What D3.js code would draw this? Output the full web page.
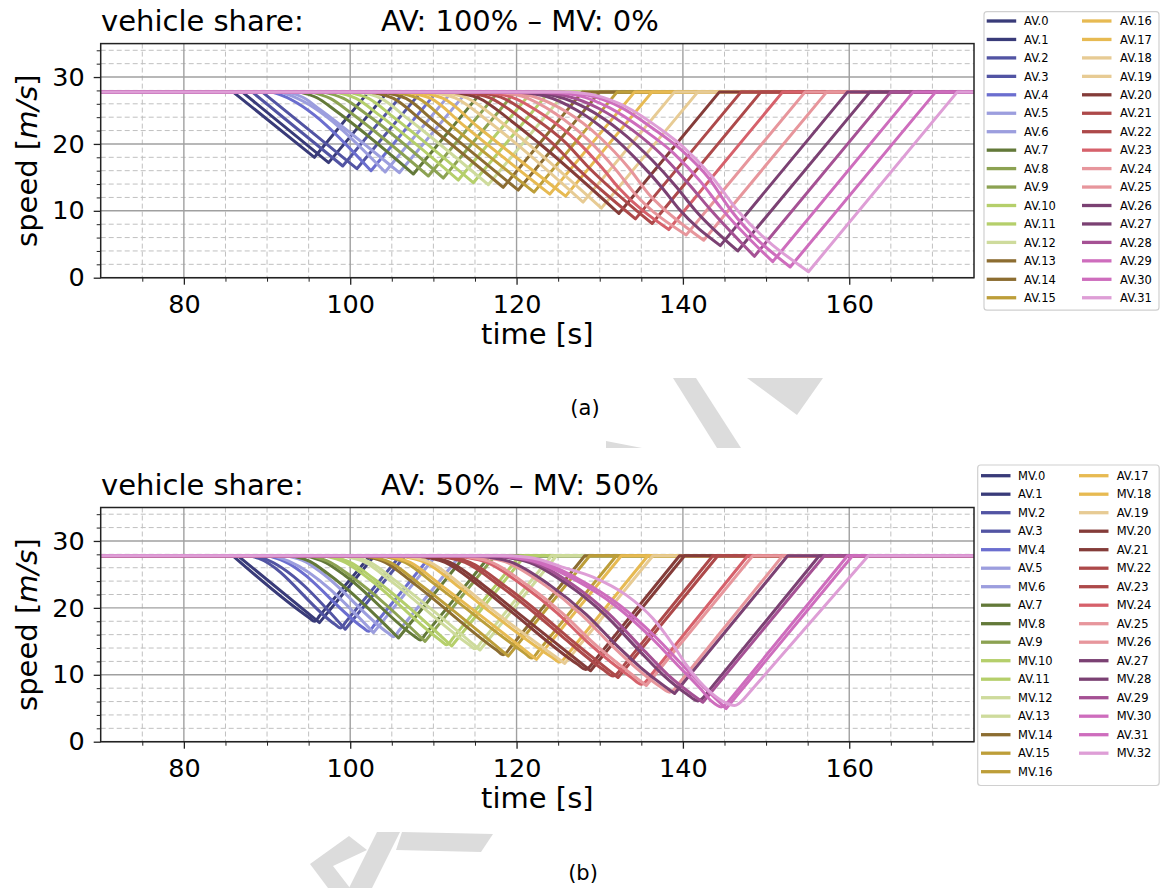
<!DOCTYPE html>
<html><head><meta charset="utf-8">
<script src="https://cdn.jsdelivr.net/npm/d3@7"></script>
<style>
body{margin:0;background:#fff}
svg{display:block}
text{font-family:"DejaVu Sans",sans-serif;fill:#000}
</style>
</head><body>
<svg id="c" width="1161" height="888"></svg>
<script>
// ---------- data ----------
const palette = ["#393b79","#5254a3","#6b6ecf","#9c9ede","#637939","#8ca252","#b5cf6b","#cedb9c",
  "#8c6d31","#bd9e39","#e7ba52","#e7cb94","#843c39","#ad494a","#d6616b","#e7969c",
  "#7b4173","#a55194","#ce6dbd","#de9ed6"];
const vFree = 27.78;
const xMajorTicks = [80,100,120,140,160];
const xMinorTicks = [75,85,90,95,105,110,115,125,130,135,145,150,155,165,170];
const yMajorTicks = [0,10,20,30];
const yMinorTicks = [2,4,6,8,12,14,16,18,22,24,26,28,32,34];

const aTitleLeft = "vehicle share:";
const aTitleRight = "AV: 100% \u2013 MV: 0%";
const bTitleRight = "AV: 50% \u2013 MV: 50%";

const aLabels = ["AV.0","AV.1","AV.2","AV.3","AV.4","AV.5","AV.6","AV.7","AV.8","AV.9","AV.10","AV.11","AV.12","AV.13","AV.14","AV.15",
  "AV.16","AV.17","AV.18","AV.19","AV.20","AV.21","AV.22","AV.23","AV.24","AV.25","AV.26","AV.27","AV.28","AV.29","AV.30","AV.31"];
// braking phase of each vehicle: [time, speed] points from start of braking to minimum
const aDecel = [
 [[85.9,27.78],[95.7,18.0]],
 [[87.0,27.78],[97.4,17.2]],
 [[88.2,27.78],[99.1,16.7]],
 [[89.4,27.78],[100.8,16.3]],
 [[90.5,27.78],[91.7,27.3],[102.5,16.0]],
 [[91.5,27.78],[93.1,27.1],[104.2,15.8]],
 [[92.4,27.78],[94.4,26.9],[96.4,25.1],[105.9,15.7]],
 [[93.8,27.78],[96.0,26.9],[98.2,25.0],[107.6,15.5]],
 [[95.2,27.78],[97.6,26.8],[100.0,24.7],[109.4,15.2]],
 [[96.6,27.78],[99.2,26.8],[101.8,24.6],[111.2,14.9]],
 [[98.0,27.78],[100.7,26.8],[103.5,24.3],[113.0,14.6]],
 [[99.4,27.78],[102.2,26.8],[105.2,24.0],[114.8,14.2]],
 [[100.8,27.78],[103.7,26.8],[106.9,23.8],[116.6,13.9]],
 [[102.2,27.78],[105.2,26.8],[108.6,23.5],[118.4,13.5]],
 [[103.6,27.78],[106.7,26.8],[110.2,23.3],[120.2,13.1]],
 [[105.0,27.78],[108.2,26.8],[111.9,23.0],[122.1,12.8]],
 [[106.4,27.78],[109.7,26.8],[113.6,22.8],[124.0,12.5]],
 [[107.8,27.78],[111.2,26.8],[115.3,22.6],[125.9,12.2]],
 [[109.2,27.78],[112.6,26.9],[116.6,23.4],[119.8,20.2],[128.0,11.3]],
 [[110.6,27.78],[114.0,26.9],[118.0,23.4],[121.5,19.9],[130.2,10.4]],
 [[112.0,27.78],[115.4,26.9],[119.4,23.4],[123.0,19.8],[132.3,9.6]],
 [[113.4,27.78],[116.8,26.9],[120.8,23.6],[124.4,20.0],[126.6,17.2],[134.3,8.8]],
 [[114.7,27.78],[118.1,27.0],[122.1,23.9],[125.8,20.3],[128.5,16.7],[136.3,8.1]],
 [[116.0,27.78],[119.4,27.0],[123.4,24.2],[127.2,20.5],[130.3,16.4],[132.3,13.4],[138.3,7.2]],
 [[117.3,27.78],[120.7,27.1],[124.7,24.5],[128.6,20.6],[131.9,16.2],[134.2,12.6],[140.4,6.4]],
 [[118.6,27.78],[122.0,27.1],[126.0,24.8],[130.0,21.0],[133.5,16.4],[136.1,12.2],[137.6,10.4],[142.5,5.6]],
 [[119.9,27.78],[123.3,27.2],[127.3,25.0],[131.3,21.4],[134.8,17.2],[137.6,13.3],[139.5,10.3],[144.5,4.8]],
 [[121.2,27.78],[124.6,27.2],[128.6,25.2],[132.6,21.8],[136.2,17.7],[139.2,13.6],[141.4,10.2],[146.6,4.0]],
 [[122.5,27.78],[125.9,27.2],[129.9,25.3],[133.9,22.1],[137.6,18.2],[140.7,14.0],[143.3,10.2],[148.6,3.2]],
 [[123.8,27.78],[127.2,27.3],[131.2,25.4],[135.2,22.2],[138.9,18.6],[142.1,14.4],[144.6,10.4],[150.8,2.4]],
 [[125.1,27.78],[128.5,27.3],[132.5,25.5],[136.4,22.3],[139.9,19.0],[143.1,14.9],[145.7,10.2],[152.9,1.6]],
 [[126.4,27.78],[129.4,27.3],[133.1,25.6],[137.1,22.4],[140.0,19.6],[143.3,15.4],[146.4,10.3],[155.1,0.9]]
];
// time at which each vehicle is back at free speed
const aEnd = [102.2,104.5,106.5,108.5,110.4,112.2,114.0,115.8,117.8,119.8,121.8,123.9,125.9,127.9,130.0,132.1,
  134.2,136.3,139.0,141.8,144.4,147.0,149.4,152.0,154.7,157.3,159.8,162.5,165.0,167.7,170.4,173.0];

const bLabels = ["MV.0","AV.1","MV.2","AV.3","MV.4","AV.5","MV.6","AV.7","MV.8","AV.9","MV.10","AV.11","MV.12","AV.13","MV.14","AV.15",
  "MV.16","AV.17","MV.18","AV.19","MV.20","AV.21","MV.22","AV.23","MV.24","AV.25","MV.26","AV.27","MV.28","AV.29","MV.30","AV.31","MV.32"];
const bDecel = [
 [[85.9,27.78],[95.1,18.5],[95.7,18.0],[96.3,18.8]],
 [[86.5,27.78],[96.3,17.8]],
 [[88.0,27.78],[89.0,27.4],[98.2,17.5],[98.8,17.0],[99.4,17.8]],
 [[88.6,27.78],[89.6,27.4],[99.4,16.8]],
 [[90.2,27.78],[92.0,27.0],[101.6,17.0],[102.2,16.5],[102.8,17.3]],
 [[90.8,27.78],[92.6,27.0],[102.8,16.3]],
 [[92.4,27.78],[94.6,26.9],[96.6,25.2],[104.6,16.2],[105.2,15.7],[105.8,16.5]],
 [[93.0,27.78],[95.2,26.9],[97.2,25.2],[105.8,15.5]],
 [[94.6,27.78],[97.0,26.8],[99.4,24.8],[107.8,15.7],[108.4,15.2],[109.0,16.0]],
 [[95.2,27.78],[97.6,26.8],[100.0,24.8],[109.0,15.0]],
 [[96.8,27.78],[99.4,26.8],[102.2,24.4],[110.9,15.1],[111.6,14.5],[112.3,15.4]],
 [[97.4,27.78],[100.0,26.8],[102.8,24.4],[112.2,14.3]],
 [[99.0,27.78],[101.8,26.8],[104.9,24.0],[114.3,14.5],[115.0,13.9],[115.7,14.8]],
 [[99.6,27.78],[102.4,26.8],[105.5,24.0],[115.6,13.7]],
 [[101.2,27.78],[104.2,26.8],[107.6,23.7],[117.6,13.7],[118.4,13.0],[119.2,14.0]],
 [[101.8,27.78],[104.8,26.8],[108.2,23.7],[119.0,12.8]],
 [[103.4,27.78],[106.6,26.8],[110.3,23.4],[121.0,13.2],[121.8,12.5],[122.6,13.5]],
 [[104.0,27.78],[107.2,26.8],[110.9,23.4],[122.4,12.3]],
 [[105.6,27.78],[109.0,26.8],[113.0,23.2],[116.8,19.4],[124.3,12.6],[125.2,11.9],[126.1,13.0]],
 [[106.2,27.78],[109.6,26.8],[113.6,23.2],[117.4,19.4],[125.8,11.7]],
 [[107.8,27.78],[111.4,26.8],[115.6,23.2],[119.4,19.4],[127.3,11.6],[128.3,10.8],[129.3,12.0]],
 [[108.4,27.78],[112.0,26.8],[116.2,23.2],[120.0,19.4],[128.9,10.6]],
 [[110.0,27.78],[113.8,26.8],[118.2,23.1],[122.2,19.2],[125.6,15.6],[130.5,10.7],[131.6,9.8],[132.7,11.1]],
 [[110.6,27.78],[114.4,26.8],[118.8,23.1],[122.8,19.2],[126.2,15.6],[132.2,9.6]],
 [[112.2,27.78],[116.2,26.9],[120.8,23.3],[125.0,19.1],[128.6,14.8],[133.8,9.6],[135.0,8.6],[136.2,10.0]],
 [[112.8,27.78],[116.8,26.9],[121.4,23.3],[125.6,19.1],[129.2,14.8],[135.6,8.4]],
 [[114.4,27.78],[118.6,26.9],[123.4,23.4],[127.8,19.0],[131.6,14.2],[134.4,11.0],[137.2,8.3],[138.4,7.4],[139.6,8.8]],
 [[115.0,27.78],[119.2,26.9],[124.0,23.4],[128.4,19.0],[132.2,14.2],[135.0,11.0],[139.0,7.2]],
 [[116.6,27.78],[121.0,27.0],[126.0,23.6],[130.6,19.0],[134.6,13.8],[137.6,10.0],[140.5,7.1],[141.8,6.1],[143.1,7.6]],
 [[117.2,27.78],[121.6,27.0],[126.6,23.6],[131.2,19.0],[135.2,13.8],[138.2,10.0],[142.4,5.9]],
 [[118.0,27.78],[122.0,27.0],[127.0,24.2],[131.8,20.4],[136.0,15.8],[139.4,11.4],[142.2,7.8],[143.4,6.1],[144.6,5.2],[145.8,6.5]],
 [[118.6,27.78],[122.6,27.0],[127.6,24.2],[132.4,20.4],[136.6,15.8],[140.0,11.4],[142.8,7.8],[145.2,4.95]],
 [[119.5,27.78],[122.5,27.3],[125.5,26.1],[129.2,24.6],[133.2,21.9],[136.4,18.4],[138.8,14.5],[140.4,11.5],[142.0,9.0],[143.4,7.3],[145.0,5.9],[146.2,5.4],[147.4,6.5]]
];
const bEnd = [102.4,102.9,106.0,106.6,109.7,110.3,113.2,113.8,116.8,117.4,120.4,121.0,124.2,124.8,128.2,128.8,
  132.0,132.6,135.8,136.4,139.6,140.2,143.6,144.2,147.8,148.4,152.0,152.6,156.4,157.0,159.8,160.4,162.3];

// ---------- drawing ----------
const svg = d3.select("#c");
const x = d3.scaleLinear().domain([70,175]).range([100.7,974]);

// watermark fragments (behind everything)
const wm = svg.append("g").attr("fill","#dcdcdc");
[
 [[673,378],[696,378],[741,448],[717,448]],
 [[747,378],[823,378],[797,415]],
 [[606,448],[642,448],[606,441]],
 [[349,836],[367,850],[333,866],[350,888],[328,888],[310,864]],
 [[377,832],[400,832],[372,888],[349,888]],
 [[402,832],[493,834],[481,852],[396,850]]
].forEach(p=>wm.append("polygon").attr("points",p.map(q=>q.join(",")).join(" ")));

function panel(top, bottom, titleRight, labels, decel, ends, legendCfg, clipId){
  const y = d3.scaleLinear().domain([0,35]).range([bottom, top]);
  const g = svg.append("g");
  const x0 = x.range()[0], x1 = x.range()[1];

  g.append("clipPath").attr("id",clipId).append("rect")
    .attr("x",x0).attr("y",top).attr("width",x1-x0).attr("height",bottom-top);

  // grid
  const grid = g.append("g");
  xMinorTicks.forEach(t=>grid.append("line").attr("x1",x(t)).attr("x2",x(t)).attr("y1",top).attr("y2",bottom)
     .attr("stroke","#c0c0c0").attr("stroke-width",1).attr("stroke-dasharray","5,3"));
  yMinorTicks.forEach(t=>grid.append("line").attr("x1",x0).attr("x2",x1).attr("y1",y(t)).attr("y2",y(t))
     .attr("stroke","#c0c0c0").attr("stroke-width",1).attr("stroke-dasharray","5,3"));
  xMajorTicks.forEach(t=>grid.append("line").attr("x1",x(t)).attr("x2",x(t)).attr("y1",top).attr("y2",bottom)
     .attr("stroke","#a0a0a0").attr("stroke-width",1.4));
  yMajorTicks.forEach(t=>grid.append("line").attr("x1",x0).attr("x2",x1).attr("y1",y(t)).attr("y2",y(t))
     .attr("stroke","#a0a0a0").attr("stroke-width",1.4));

  // series
  const lin = d3.line().x(d=>x(d[0])).y(d=>y(d[1]));
  const mono = d3.line().curve(d3.curveMonotoneX).x(d=>x(d[0])).y(d=>y(d[1]));
  const N = labels.length;
  const color = i => palette[Math.floor(i*20/N)];
  const series = g.append("g").attr("clip-path",`url(#${clipId})`);
  decel.forEach((P,i)=>{
    const last = P[P.length-1];
    const d = lin([[70,vFree],P[0]]) + mono(P) + lin([last,[ends[i],vFree],[175,vFree]]);
    series.append("path").attr("d",d).attr("fill","none").attr("stroke",color(i))
      .attr("stroke-width",3).attr("stroke-linejoin","round").attr("stroke-linecap","round");
  });

  // axes
  const ax = g.append("g").attr("transform",`translate(0,${bottom})`)
    .call(d3.axisBottom(x).tickValues(xMajorTicks).tickSize(7).tickPadding(10).tickFormat(d3.format("d")));
  ax.select(".domain").remove();
  ax.selectAll("text").attr("font-size","25.5px").attr("font-family","DejaVu Sans").attr("fill","#000");
  ax.selectAll("line").attr("stroke","#222").attr("stroke-width",1.3);
  const axm = g.append("g").attr("transform",`translate(0,${bottom})`)
    .call(d3.axisBottom(x).tickValues(xMinorTicks).tickSize(4).tickFormat(""));
  axm.select(".domain").remove();
  axm.selectAll("line").attr("stroke","#222").attr("stroke-width",1);

  const ay = g.append("g").attr("transform",`translate(${x0},0)`)
    .call(d3.axisLeft(y).tickValues(yMajorTicks).tickSize(7).tickPadding(9));
  ay.select(".domain").remove();
  ay.selectAll("text").attr("font-size","25.5px").attr("font-family","DejaVu Sans").attr("fill","#000");
  ay.selectAll("line").attr("stroke","#222").attr("stroke-width",1.3);
  const aym = g.append("g").attr("transform",`translate(${x0},0)`)
    .call(d3.axisLeft(y).tickValues(yMinorTicks).tickSize(4).tickFormat(""));
  aym.select(".domain").remove();
  aym.selectAll("line").attr("stroke","#222").attr("stroke-width",1);

  g.append("rect").attr("x",x0).attr("y",top).attr("width",x1-x0).attr("height",bottom-top)
    .attr("fill","none").attr("stroke","#222").attr("stroke-width",1.5);

  // labels
  g.append("text").attr("x",(x0+x1)/2).attr("y",bottom+66).attr("text-anchor","middle")
    .attr("font-size","29px").text("time [s]");
  const yl = g.append("text").attr("transform",`translate(37,${(top+bottom)/2}) rotate(-90)`)
    .attr("text-anchor","middle").attr("font-size","29px");
  yl.append("tspan").text("speed [");
  yl.append("tspan").attr("font-style","italic").text("m/s");
  yl.append("tspan").text("]");

  g.append("text").attr("x",101).attr("y",top-13).attr("font-size","29px").text(aTitleLeft);
  g.append("text").attr("x",381).attr("y",top-13).attr("font-size","29px").text(titleRight);

  // legend
  const L = legendCfg;
  const lg = svg.append("g");
  lg.append("rect").attr("x",L.x).attr("y",L.y).attr("width",L.w).attr("height",L.h)
    .attr("rx",3).attr("fill","#fff").attr("stroke","#d0d0d0").attr("stroke-width",1.2);
  labels.forEach((lab,i)=>{
    const col = i < L.rows ? 0 : 1;
    const row = col ? i - L.rows : i;
    const cy = L.y0 + row*L.dy;
    lg.append("line").attr("x1",L.hx[col]).attr("x2",L.hx[col]+29.5).attr("y1",cy).attr("y2",cy)
      .attr("stroke",color(i)).attr("stroke-width",3.3);
    lg.append("text").attr("x",L.tx[col]).attr("y",cy+4.2).attr("font-size","11.5px").text(lab);
  });
}

panel(43.6, 277.7, aTitleRight, aLabels, aDecel, aEnd,
  {x:984, y:11.7, w:175, h:298.5, rows:16, y0:21, dy:18.45, hx:[986.7,1082], tx:[1024,1120]}, "clipA");
panel(507.5, 741.7, bTitleRight, bLabels, bDecel, bEnd,
  {x:977.7, y:465, w:181.5, h:320.5, rows:17, y0:475.7, dy:18.5, hx:[981,1079], tx:[1018,1116.7]}, "clipB");

// captions
svg.append("text").attr("x",585).attr("y",415).attr("text-anchor","middle")
  .attr("font-family","Liberation Sans, Arial, sans-serif").attr("font-size","21px").text("(a)");
svg.append("text").attr("x",583).attr("y",880).attr("text-anchor","middle")
  .attr("font-family","Liberation Sans, Arial, sans-serif").attr("font-size","21px").text("(b)");
</script>
</body></html>
